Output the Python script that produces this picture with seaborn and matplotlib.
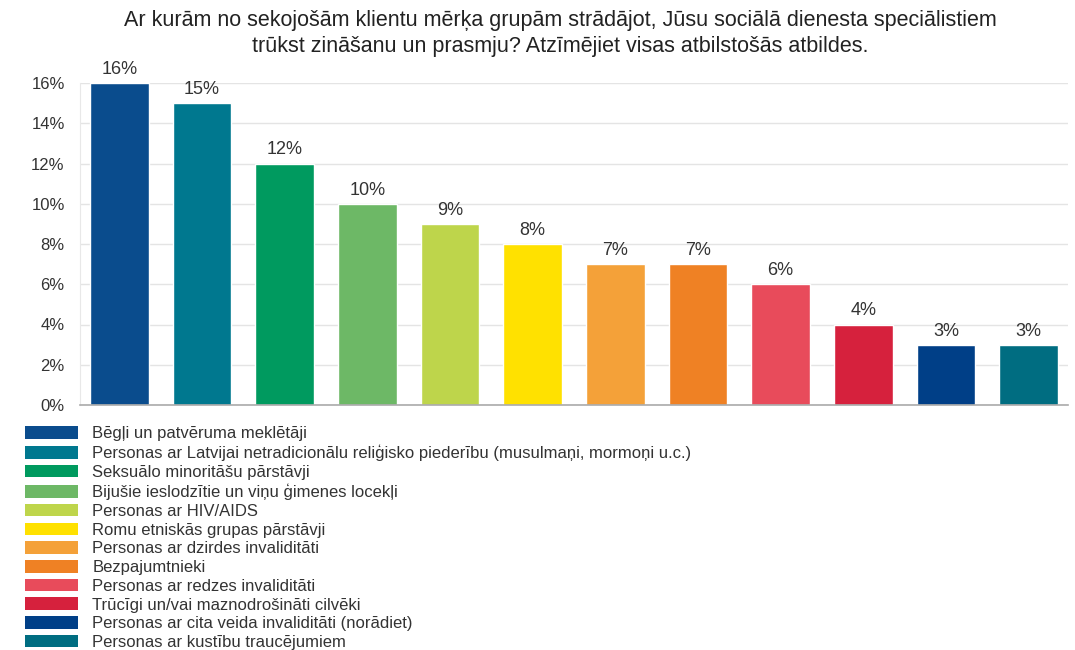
import matplotlib
matplotlib.use("Agg")
import matplotlib.pyplot as plt
import matplotlib.patches as mpatches
import seaborn as sns
import pandas as pd

categories = [
    "Bēgļi un patvēruma meklētāji",
    "Personas ar Latvijai netradicionālu reliģisko piederību (musulmaņi, mormoņi u.c.)",
    "Seksuālo minoritāšu pārstāvji",
    "Bijušie ieslodzītie un viņu ģimenes locekļi",
    "Personas ar HIV/AIDS",
    "Romu etniskās grupas pārstāvji",
    "Personas ar dzirdes invaliditāti",
    "Bezpajumtnieki",
    "Personas ar redzes invaliditāti",
    "Trūcīgi un/vai maznodrošināti cilvēki",
    "Personas ar cita veida invaliditāti (norādiet)",
    "Personas ar kustību traucējumiem",
]
values = [16, 15, 12, 10, 9, 8, 7, 7, 6, 4, 3, 3]
colors = ["#0a4c8d", "#00788f", "#009a5f", "#6db866", "#bed54b", "#ffe100",
          "#f4a139", "#ef8124", "#e84b5b", "#d6213d", "#003f87", "#006d81"]
yticks = [0, 2, 4, 6, 8, 10, 12, 14, 16]

title = ("Ar kurām no sekojošām klientu mērķa grupām strādājot, Jūsu sociālā dienesta speciālistiem\n"
         "trūkst zināšanu un prasmju? Atzīmējiet visas atbilstošās atbildes.")

df = pd.DataFrame({"group": categories, "value": values})

sns.set_style("white")
plt.rcParams["font.family"] = ["Liberation Sans", "DejaVu Sans"]

fig = plt.figure(figsize=(10.75, 6.5), dpi=100)
ax = fig.add_axes([80 / 1075, 1 - 405 / 650, 988 / 1075, 322 / 650])

sns.barplot(data=df, x="group", y="value", hue="group", palette=colors,
            order=categories, hue_order=categories, legend=False,
            width=0.71, saturation=1, ax=ax)

for bar, v in zip(ax.patches, values):
    ax.text(bar.get_x() + bar.get_width() / 2, v + 0.25, f"{v}%",
            ha="center", va="bottom", fontsize=13, color="#333333")

ax.set_ylim(0, 16)
ax.set_xlim(-0.476, 11.476)
ax.set_yticks(yticks)
ax.set_yticklabels([f"{t}%" for t in yticks], fontsize=12, color="#333333")
ax.set_xticks([])
ax.set_xlabel("")
ax.set_ylabel("")
ax.grid(axis="y", color="#e4e4e4", linewidth=1)
ax.set_axisbelow(True)
ax.tick_params(axis="y", length=9, color="#e4e4e4", pad=2)
for s in ["top", "right"]:
    ax.spines[s].set_visible(False)
ax.spines["left"].set_color("#e8e8e8")
ax.spines["bottom"].set_color("#aaaaaa")
ax.spines["bottom"].set_linewidth(1.2)

fig.text(0.521, 1 - 10 / 650, title, ha="center", va="top", fontsize=15.5, color="#222222",
         linespacing=1.32)

handles = [mpatches.Patch(facecolor=c, edgecolor="none", label=l)
           for c, l in zip(colors, categories)]
fig.legend(handles=handles, loc="upper left", bbox_to_anchor=(20 / 1075, 1 - 421 / 650),
           frameon=False, fontsize=12, handlelength=3.2, handleheight=0.78,
           handletextpad=0.84, labelspacing=0.22, borderaxespad=0, borderpad=0.3,
           labelcolor="#333333")

fig.savefig("out.png", dpi=100)
